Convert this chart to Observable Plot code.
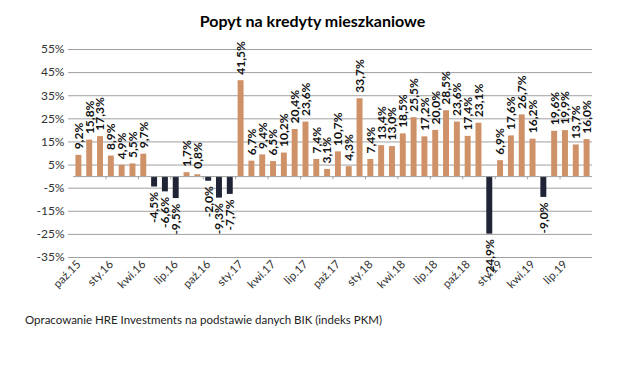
<!DOCTYPE html>
<html>
<head>
<meta charset="utf-8">
<script src="https://cdn.jsdelivr.net/npm/d3@7"></script>
<script src="https://cdn.jsdelivr.net/npm/@observablehq/plot@0.6"></script>
<style>
  body { margin: 0; background: #fff; font-family: Lato, "Open Sans", sans-serif; }
  #wrap { width: 625px; height: 371px; position: relative; }
  #title { height: 36px; line-height: 42px; text-align: center; font-weight: bold; font-size: 16px; color: #000; }
  #caption { font-size: 11.5px; color: #222; padding-left: 25px; margin-top: 13px; }
</style>
</head>
<body>
<div id="wrap">
  <div id="title">Popyt na kredyty mieszkaniowe</div>
  <div id="chart"></div>
  <div id="caption">Opracowanie HRE Investments na podstawie danych BIK (indeks PKM)</div>
</div>
<script>
const months = ["sty","lut","mar","kwi","maj","cze","lip","sie","wrz","paź","lis","gru"];
// categories Oct 2015 .. Sep 2019
const categories = [];
for (let y = 2015; y <= 2019; y++) for (let m = 0; m < 12; m++) {
  if ((y === 2015 && m < 9) || (y === 2019 && m > 8)) continue;
  categories.push(months[m] + "." + String(y).slice(2));
}
const values = [9.2, 15.8, 17.3, 8.9, 4.9, 5.5, 9.7, -4.5, -6.6, -9.5, 1.7, 0.8, -2.0, -9.3, -7.7,
  41.5, 6.7, 9.4, 6.5, 10.2, 20.4, 23.6, 7.4, 3.1, 10.7, 4.3, 33.7,
  7.4, 13.4, 13.0, 18.5, 25.5, 17.2, 20.0, 28.5, 23.6, 17.4, 23.1,
  -24.9, 6.9, 17.6, 26.7, 16.2, -9.0, 19.6, 19.9, 13.7, 16.0];
const tickLabels = categories.filter((d, i) => i % 3 === 0);
const yTicks = [-35, -25, -15, -5, 5, 15, 25, 35, 45, 55];

const data = categories.map((c, i) => ({cat: c, v: values[i]}));
const pos = data.filter(d => d.v >= 0);
const neg = data.filter(d => d.v < 0);
const boundaries = categories.filter((d, i) => i % 3 === 0 && i > 0);
const fmt = v => v.toFixed(1).replace(".", ",") + "%";

const chart = Plot.plot({
  width: 625,
  height: 264,
  marginTop: 13,
  marginBottom: 43,
  marginLeft: 73,
  marginRight: 33,
  style: {fontFamily: "Lato, sans-serif", fontSize: "11.5px", color: "#333", background: "#fff"},
  x: {type: "band", domain: categories, paddingInner: 0.45, paddingOuter: 0.225, label: null},
  y: {domain: [-35, 55], label: null},
  marks: [
    Plot.gridY(yTicks, {stroke: "#a0a0a0", strokeOpacity: 1, strokeWidth: 1}),
    Plot.axisY(yTicks, {tickFormat: d => d + "%", tickSize: 5, tickPadding: 4, stroke: "#a0a0a0", fill: "#333", fontSize: 12}),
    Plot.ruleX([0], {frameAnchor: "left", stroke: "#a0a0a0"}),
    Plot.barY(pos, {x: "cat", y: "v", fill: "#cf9167"}),
    Plot.barY(neg, {x: "cat", y: "v", fill: "#1f2437"}),
    Plot.ruleY([0], {stroke: "#a0a0a0"}),
    Plot.ruleX(boundaries, {x: d => d, y1: 0, y2: -1.4, dx: -5.4, stroke: "#a0a0a0"}),
    Plot.axisX(tickLabels, {anchor: "bottom", tickSize: 0, tickRotate: -45, tickPadding: 5, fontSize: 11.5, fill: "#333"}),
    Plot.text(pos, {x: "cat", y: "v", text: d => fmt(d.v), rotate: -90, textAnchor: "start", dy: -6, fontWeight: "bold", fontSize: 12, fill: "#111"}),
    Plot.text(neg, {x: "cat", y: "v", text: d => fmt(d.v), rotate: -90, textAnchor: "end", dy: 5, fontWeight: "bold", fontSize: 12, fill: "#111"})
  ]
});
document.getElementById("chart").appendChild(chart);
</script>
</body>
</html>
